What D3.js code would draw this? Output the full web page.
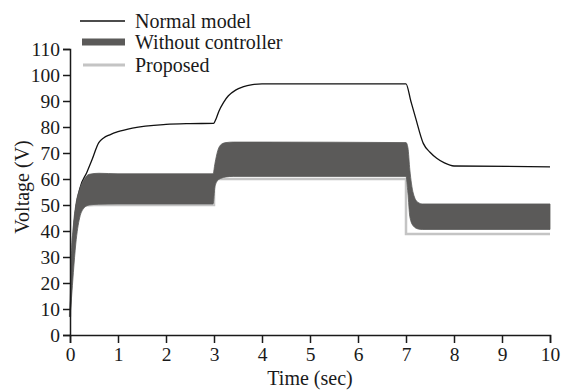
<!DOCTYPE html>
<html><head><meta charset="utf-8">
<script src="https://cdn.jsdelivr.net/npm/d3@7"></script>
<style>body{margin:0;background:#fff}svg{display:block}text{font-family:"Liberation Serif","Times New Roman",serif;fill:#1a1a1a}</style>
</head><body><svg id="c" width="567" height="391"></svg>
<script>
// Data
const xTicks = [0,1,2,3,4,5,6,7,8,9,10];
const yTicks = [0,10,20,30,40,50,60,70,80,90,100,110];
const seriesNames = ["Normal model","Without controller","Proposed"];

const normalT = [0,0.05,0.1,0.2,0.35,0.45,0.6,0.7,0.83,1,1.3,2,2.5,2.99,3.05,3.1,3.2,3.3,3.45,3.6,3.8,4,7,7.1,7.2,7.36,7.5,7.64,7.8,8,10];
const normalV = [7,30,45,56,62.5,67,74,75.8,77,78.2,79.6,81,81.3,81.4,83.5,86,89.5,92,94.2,95.4,96.3,96.6,96.6,90,83.5,73.7,70.3,68,66.2,65,64.7];

const bandT     = [0,0.03,0.07,0.12,0.2,0.3,0.4,0.6,1,2,2.98,3.02,3.08,3.15,3.25,3.4,4,7,7.04,7.08,7.15,7.25,7.35,8,10];
const bandUpper = [7,30,42,50,56,60,61.8,62.2,62,62,62,66,71,73.3,74,74.2,74.2,74,72,63.5,54.6,51,50.4,50.4,50.4];
const bandLower = [7,14,24,35,45,49,50,50.3,50.4,50.4,50.4,57,59.5,60.3,60.8,61,61,61,54.6,45.5,42,40.8,40.6,40.6,40.6];

const propT = [0,0.05,0.1,0.2,0.3,0.5,3.0,3.0,7.0,7.0,10];
const propV = [7,35,44,48.5,49.8,50,50,60,60,38.8,38.8];

const svg = d3.select("#c");
const x = d3.scaleLinear().domain([0,10]).range([70,550]);
const y = d3.scaleLinear().domain([0,110]).range([335,49]);

// Proposed (under)
svg.append("path")
  .datum(propT.map((t,i)=>[t,propV[i]]))
  .attr("fill","none").attr("stroke","#c4c4c4").attr("stroke-width",2.5)
  .attr("d", d3.line().x(d=>x(d[0])).y(d=>y(d[1])));

// Normal model
svg.append("path")
  .datum(normalT.map((t,i)=>[t,normalV[i]]))
  .attr("fill","none").attr("stroke","#111").attr("stroke-width",1.3)
  .attr("d", d3.line().curve(d3.curveMonotoneX).x(d=>x(d[0])).y(d=>y(d[1])));

// Without controller band
svg.append("path")
  .datum(bandT.map((t,i)=>[t,bandUpper[i],bandLower[i]]))
  .attr("fill","#5b5a59").attr("stroke","#5b5a59").attr("stroke-width",0.8)
  .attr("d", d3.area().curve(d3.curveMonotoneX).x(d=>x(d[0])).y0(d=>y(d[2])).y1(d=>y(d[1])));

// Axes
const xAxis = svg.append("g").attr("transform","translate(0,335)")
  .call(d3.axisBottom(x).tickValues(xTicks).tickSize(8).tickPadding(4).tickFormat(d3.format("d")));
const yAxis = svg.append("g").attr("transform","translate(70,0)")
  .call(d3.axisLeft(y).tickValues(yTicks).tickSize(7).tickPadding(3).tickFormat(d3.format("d")));
[xAxis,yAxis].forEach(a=>{
  a.select(".domain").attr("stroke","#1a1a1a").attr("stroke-width",1.5);
  a.selectAll(".tick line").attr("stroke","#1a1a1a").attr("stroke-width",1.5);
  a.selectAll("text").style("font-size","19.5px").attr("fill","#1a1a1a");
});
yAxis.selectAll("text").attr("dy","0.33em");

svg.append("text").attr("x",310).attr("y",385).attr("text-anchor","middle")
  .style("font-size","20px").text("Time (sec)");
svg.append("text").attr("transform","translate(29,187) rotate(-90)").attr("text-anchor","middle")
  .style("font-size","20px").text("Voltage (V)");

// Legend
const lg = svg.append("g");
const ly = [21,42,65];
lg.append("line").attr("x1",80).attr("x2",125).attr("y1",ly[0]).attr("y2",ly[0]).attr("stroke","#111").attr("stroke-width",1.5);
lg.append("line").attr("x1",82).attr("x2",125).attr("y1",ly[1]).attr("y2",ly[1]).attr("stroke","#5b5a59").attr("stroke-width",7);
lg.append("line").attr("x1",83).attr("x2",125).attr("y1",ly[2]).attr("y2",ly[2]).attr("stroke","#c4c4c4").attr("stroke-width",3);
seriesNames.forEach((n,i)=>{
  lg.append("text").attr("x",135).attr("y",ly[i]+6.5).style("font-size","20px").text(n);
});
</script></body></html>
